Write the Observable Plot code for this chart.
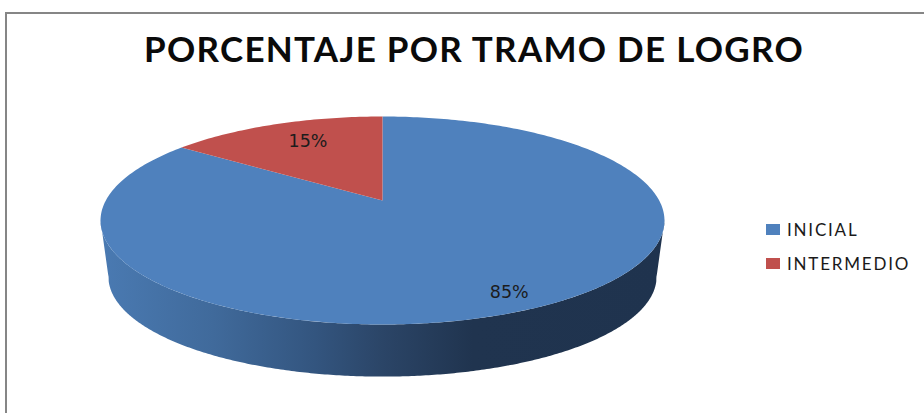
<!DOCTYPE html>
<html>
<head>
<meta charset="utf-8">
<script src="https://cdn.jsdelivr.net/npm/d3@7"></script>
<script src="https://cdn.jsdelivr.net/npm/@observablehq/plot@0.6"></script>
<style>
  html, body { margin: 0; padding: 0; background: #fff; overflow: hidden; }
  #page { position: relative; width: 924px; height: 413px; overflow: hidden; }
  #frame { position: absolute; left: 5px; top: 12px; right: -5px; bottom: -5px; border: 1px solid #868686; border-width: 2px 0 0 2px; }
  #title { position: absolute; left: 0; top: 24px; width: 948px; text-align: center; font: 700 35px/48px Lato, sans-serif; color: #0a0a0a; letter-spacing: 1.27px; white-space: nowrap; }
  .item { position: absolute; left: 766px; height: 14px; font: 400 17px/14px Lato, sans-serif; color: #1a1a1a; letter-spacing: 1.8px; white-space: nowrap; }
  .item i { position: absolute; left: 0; top: 1px; width: 14px; height: 11px; }
  .item span { position: absolute; left: 21px; top: 0; }
  svg { position: absolute; left: 0; top: 0; }
</style>
</head>
<body>
<div id="page">
  <div id="frame"></div>
  <div id="title"></div>
  <div id="chart"></div>
  <div id="legend"></div>
</div>
<script>
const titleText = "PORCENTAJE POR TRAMO DE LOGRO";
const categories = ["INICIAL", "INTERMEDIO"];
const percents = [85, 15];
const colors = ["#4f81bd", "#c0504d"];

// Perspective view of a tilted disc, used to turn values into disc coordinates.
const tilt = -0.1923;
const project = (angle, r = 1) => {
  const u = r * Math.sin(angle), v = -r * Math.cos(angle), d = 1 + tilt * v;
  return {px: u / d, py: v / d};
};
const tau = 2 * Math.PI;
const pie = d3.pie().sort(null).startAngle(0).endAngle(tau)(percents);

const slices = pie.flatMap((s, i) => {
  const n = Math.ceil((s.endAngle - s.startAngle) * 60);
  const arc = d3.range(n + 1).map(k => project(s.startAngle + (s.endAngle - s.startAngle) * k / n));
  return [{px: 0, py: 0}, ...arc, {px: 0, py: 0}].map(p => ({...p, category: categories[i]}));
});

// The side wall: the same disc, pushed down and slightly smaller.
const rim = d3.range(0, 721).map(k => project(k / 720 * tau));
const wallScaleX = 0.972, wallScaleY = 0.96, wallDrop = 0.57;
const wall = [];
const front = rim.filter(p => p.py > 0.16).sort((a, b) => a.px - b.px);
front.forEach(p => wall.push(p));
[...front].reverse().forEach(p => wall.push({px: p.px * wallScaleX, py: p.py * wallScaleY + wallDrop}));
wall.push(wall[0]);

const labelRadius = [0.86, 0.66];
const labelShift = [2, -6];
const labels = pie.map((s, i) => {
  const p = project((s.startAngle + s.endAngle) / 2, labelRadius[i]);
  return {...p, text: percents[i] + "%"};
});

const gradient = () => {
  const defs = d3.create("svg:defs");
  const g = defs.append("linearGradient").attr("id", "wallFill")
    .attr("x1", 0).attr("x2", 1).attr("y1", 0).attr("y2", 0);
  [[0, "#4a7ab2"], [0.2, "#406a9b"], [0.38, "#33557f"], [0.5, "#2b4567"], [0.66, "#20344f"], [1, "#1f334e"]]
    .forEach(([o, c]) => g.append("stop").attr("offset", o).attr("stop-color", c));
  return defs.node();
};

const cx = 382, cy = 200, sx = 276.7, sy = 100.15, W = 924, H = 413;
const chart = Plot.plot({
  width: W, height: H, margin: 0,
  style: {background: "transparent", overflow: "visible"},
  x: {axis: null, domain: [-cx / sx, (W - cx) / sx], range: [0, W]},
  y: {axis: null, domain: [-cy / sy, (H - cy) / sy], range: [0, H]},
  color: {domain: categories, range: colors},
  marks: [
    gradient,
    Plot.line(wall, {x: "px", y: "py", stroke: "none", fill: "url(#wallFill)"}),
    Plot.line(slices, {x: "px", y: "py", z: "category", stroke: "none", fill: "category"}),
    ...labels.map((l, i) => Plot.text([l], {x: "px", y: "py", text: "text", dy: labelShift[i], fontSize: 17.5, fontFamily: "DejaVu Sans", fill: "#1c1c1c"}))
  ]
});
document.getElementById("chart").append(chart);
document.getElementById("title").textContent = titleText;

const legendTops = [223, 257];
const legend = d3.select("#legend");
categories.forEach((c, i) => {
  const it = legend.append("div").attr("class", "item").style("top", legendTops[i] + "px");
  it.append("i").style("background", colors[i]);
  it.append("span").text(c);
});
</script>
</body>
</html>
